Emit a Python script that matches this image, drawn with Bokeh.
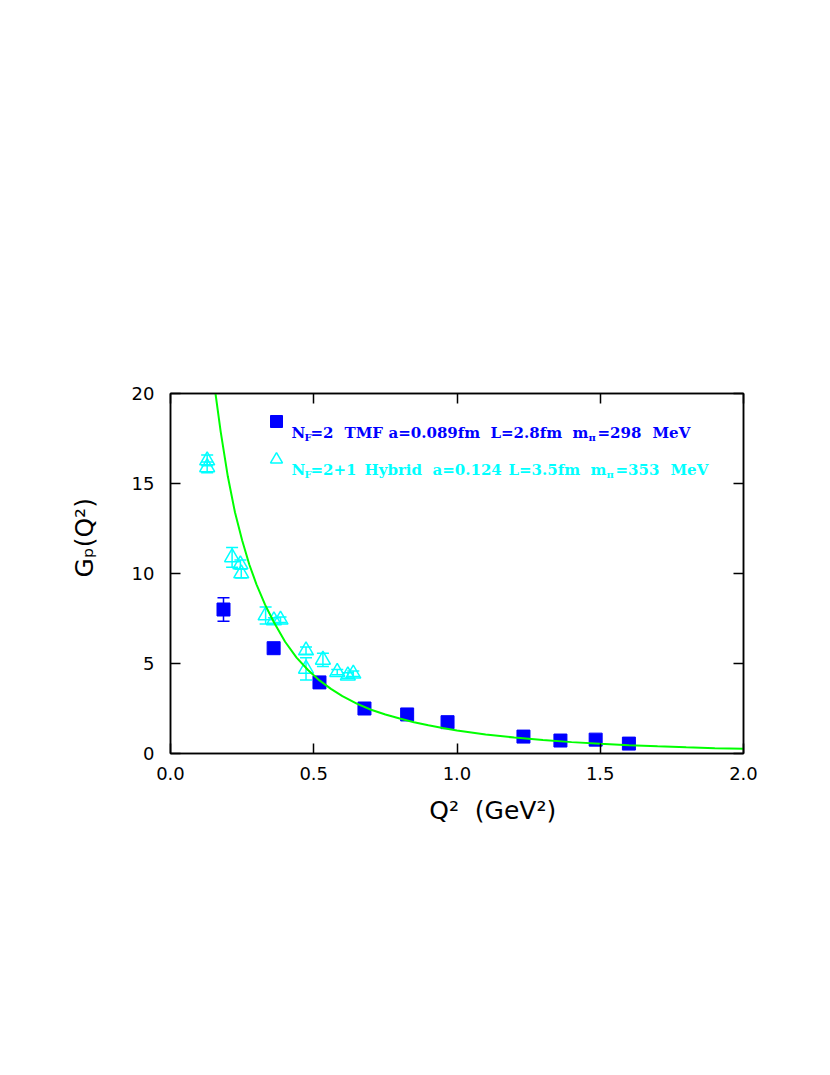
import numpy as np
from bokeh.plotting import figure
from bokeh.models import (Range1d, LinearAxis, FixedTicker, PrintfTickFormatter,
                          ColumnDataSource, Whisker, TeeHead, Label, Legend, LegendItem)
from bokeh.embed import file_html
from bokeh.resources import INLINE

# ---------------- data ----------------
tmf_x = [0.185, 0.360, 0.520, 0.677, 0.826, 0.967, 1.232, 1.361, 1.484, 1.600]
tmf_y = [8.00, 5.85, 3.95, 2.50, 2.17, 1.74, 0.94, 0.72, 0.77, 0.55]
tmf_err = [0.65, 0.25, 0.12, 0.10, 0.10, 0.10, 0.08, 0.08, 0.08, 0.06]

hyb_x = [0.128, 0.128, 0.215, 0.244, 0.247, 0.332, 0.361, 0.384,
         0.473, 0.473, 0.532, 0.582, 0.619, 0.638]
hyb_y = [16.28, 15.90, 10.90, 10.50, 10.00, 7.67, 7.39, 7.43,
         5.72, 4.70, 5.20, 4.52, 4.33, 4.43]
hyb_err = [0.30, 0.30, 0.55, 0.25, 0.25, 0.47, 0.15, 0.15,
           0.20, 0.62, 0.37, 0.15, 0.15, 0.15]

fit_x = [0.157, 0.175, 0.20, 0.225, 0.25, 0.275, 0.30, 0.33, 0.36, 0.40, 0.44,
         0.48, 0.52, 0.56, 0.60, 0.65, 0.70, 0.75, 0.80, 0.85, 0.90, 0.95,
         1.00, 1.10, 1.20, 1.30, 1.40, 1.50, 1.60, 1.70, 1.80, 1.90, 2.00]
fit_y = [20.0, 17.9, 15.4, 13.4, 11.85, 10.5, 9.4, 8.27, 7.32, 6.21, 5.33,
         4.64, 4.06, 3.59, 3.19, 2.77, 2.43, 2.17, 1.94, 1.74, 1.57, 1.42,
         1.28, 1.06, 0.885, 0.745, 0.632, 0.538, 0.461, 0.397, 0.343, 0.297, 0.259]

x_ticks = [0.0, 0.5, 1.0, 1.5, 2.0]
y_ticks = [0, 5, 10, 15, 20]

x_title = "Q²\u00a0\u00a0(GeV²)"
y_title = "Gₚ(Q²)"

BLUE = "#0000FF"
CYAN = "#00FFFF"
GREEN = "#00FF00"

# ---------------- figure ----------------
FL, FT, FW, FH = 170, 393, 573, 360   # frame in page px
W, H = 800, 900
p = figure(width=W, height=H, output_backend="svg", toolbar_location=None,
           x_range=Range1d(0, 2), y_range=Range1d(0, 20),
           min_border_left=FL, min_border_top=FT,
           min_border_right=W - FL - FW,
           min_border_bottom=H - FT - FH)
p.grid.visible = False
p.outline_line_color = "black"
p.outline_line_width = 1.5
p.background_fill_color = "white"
p.border_fill_color = "white"

TICK_FONT = "DejaVu Sans"

def style_axis(ax, ticks, fmt, show_labels):
    ax.ticker = FixedTicker(ticks=ticks)
    ax.formatter = PrintfTickFormatter(format=fmt)
    ax.major_tick_in = 10
    ax.major_tick_out = 0
    ax.minor_tick_in = 0
    ax.minor_tick_out = 0
    ax.major_tick_line_color = "black"
    ax.major_tick_line_width = 1.5
    ax.axis_line_color = "black"
    ax.axis_line_width = 1.5
    ax.major_label_text_font = TICK_FONT
    ax.major_label_text_font_size = "18px"
    ax.major_label_text_color = "black"
    if not show_labels:
        ax.major_label_overrides = {t: "" for t in ticks}
    ax.axis_label = None

style_axis(p.xaxis[0], x_ticks, "%.1f", True)
p.xaxis[0].major_label_standoff = 13
style_axis(p.yaxis[0], y_ticks, "%d", True)
p.yaxis[0].major_label_standoff = 16

# axis titles (leading no-break spaces shift the text as in the original)
pad = "\u00a0" * 9
for ax, title, standoff in ((p.xaxis[0], x_title, 13), (p.yaxis[0], y_title, 30)):
    ax.axis_label = pad + title
    ax.axis_label_text_font = TICK_FONT
    ax.axis_label_text_font_size = "25px"
    ax.axis_label_text_font_style = "normal"
    ax.axis_label_text_color = "black"
    ax.axis_label_standoff = standoff

top = LinearAxis()
style_axis(top, x_ticks, "%.1f", False)
p.add_layout(top, "above")
right = LinearAxis()
style_axis(right, y_ticks, "%d", False)
p.add_layout(right, "right")

# ---------------- error bars ----------------
tmf_src = ColumnDataSource(dict(x=tmf_x, y=tmf_y,
                                lo=[v - e for v, e in zip(tmf_y, tmf_err)],
                                hi=[v + e for v, e in zip(tmf_y, tmf_err)]))
hyb_src = ColumnDataSource(dict(x=hyb_x, y=hyb_y,
                                lo=[v - e for v, e in zip(hyb_y, hyb_err)],
                                hi=[v + e for v, e in zip(hyb_y, hyb_err)]))

for src, col in ((hyb_src, CYAN), (tmf_src, BLUE)):
    w = Whisker(source=src, base="x", lower="lo", upper="hi",
                line_color=col, line_width=1.5,
                upper_head=TeeHead(size=12, line_color=col, line_width=1.5),
                lower_head=TeeHead(size=12, line_color=col, line_width=1.5))
    p.add_layout(w)

r_hyb = p.scatter("x", "y", source=hyb_src, marker="triangle", size=15,
                  fill_color=None, line_color=CYAN, line_width=1.5)
r_tmf = p.scatter("x", "y", source=tmf_src, marker="square", size=13,
                  fill_color=BLUE, line_color=BLUE, line_width=1)

p.line(fit_x, fit_y, line_color=GREEN, line_width=2)

# ---------------- legend markers ----------------
leg = Legend(items=[LegendItem(label=" ", renderers=[r_tmf]),
                    LegendItem(label=" ", renderers=[r_hyb])],
             location=(91, 279), orientation="vertical",
             glyph_width=30, glyph_height=30, spacing=8,
             padding=0, margin=0, label_standoff=0, label_width=1,
             label_height=30, label_text_font_size="1px",
             border_line_color=None, background_fill_alpha=0)
p.add_layout(leg)

# ---------------- legend texts (inside the frame) ----------------
def dx(px):
    return (px - FL) / FW * 2.0

def dy(py):
    return (FT + FH - py) / FH * 20.0

def txt(px, py, s, size, color, font, style="normal"):
    p.add_layout(Label(x=dx(px), y=dy(py), text=s, text_font=font,
                       text_font_size=f"{size}px", text_color=color,
                       text_font_style=style,
                       text_align="left", text_baseline="alphabetic"))

LF = "DejaVu Serif"
LS = 15
SS = 10
row1 = 432
for (px, s, sub) in [(291, "N", False), (304, "F", True), (310, "=2", False),
                     (344, "TMF", False), (388, "a=0.089fm", False),
                     (490, "L=2.8fm", False), (572, "m", False), (588, "π", True),
                     (597, "=298", False), (652, "MeV", False)]:
    txt(px, row1 + (5 if sub else 0), s, SS if sub else LS, BLUE, LF, "bold")
row2 = 469
for (px, s, sub) in [(291, "N", False), (304, "F", True), (310, "=2+1", False),
                     (364, "Hybrid", False), (432, "a=0.124", False),
                     (508, "L=3.5fm", False), (590, "m", False), (606, "π", True),
                     (615, "=353", False), (670, "MeV", False)]:
    txt(px, row2 + (5 if sub else 0), s, SS if sub else LS, CYAN, LF, "bold")

open("out.html", "w").write(file_html(p, INLINE))
